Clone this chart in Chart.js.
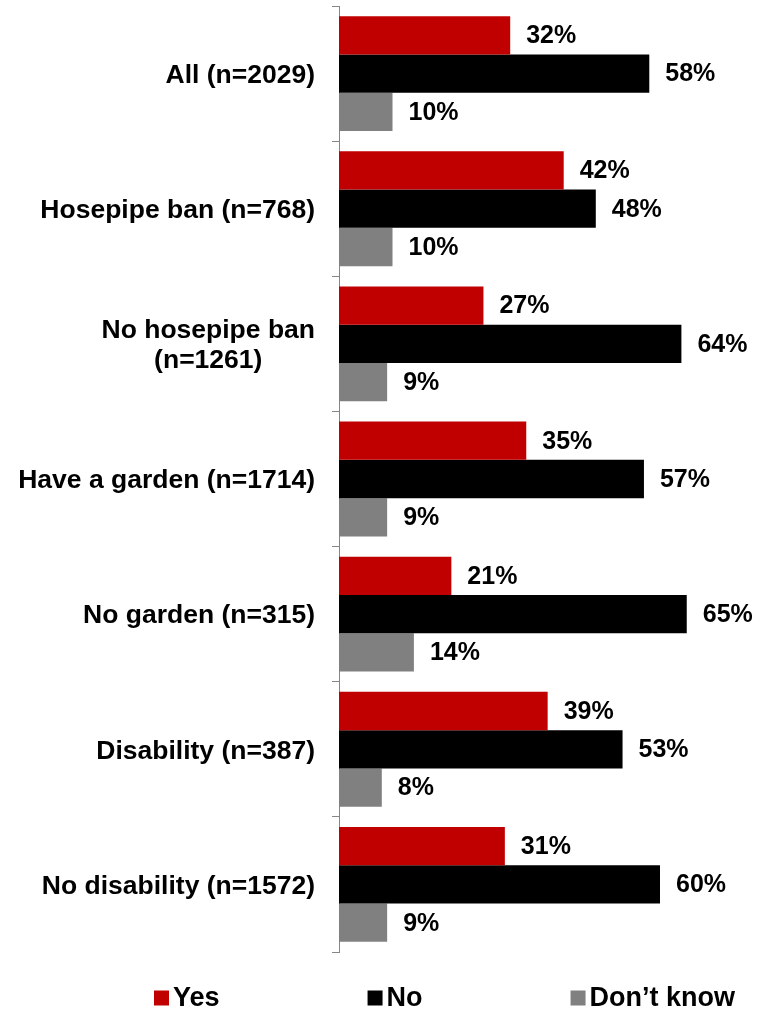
<!DOCTYPE html>
<html>
<head>
<meta charset="utf-8">
<script src="https://cdn.jsdelivr.net/npm/chart.js@4/dist/chart.umd.min.js"></script>
<style>
    html, body { margin: 0; padding: 0; background: #fff; }
    #wrap { width: 770px; height: 1010px; position: relative; }
</style>
</head>
<body>
<div id="wrap"><canvas id="surveyChart"></canvas></div>
<script>
// Survey answers by group (percent)
const groups = [
    ['All (n=2029)'],
    ['Hosepipe ban (n=768)'],
    ['No hosepipe ban', '(n=1261)'],
    ['Have a garden (n=1714)'],
    ['No garden (n=315)'],
    ['Disability (n=387)'],
    ['No disability (n=1572)']
];
const yesValues = [32, 42, 27, 35, 21, 39, 31];
const noValues = [58, 48, 64, 57, 65, 53, 60];
const dontKnowValues = [10, 10, 9, 9, 14, 8, 9];

const FONT = "'Liberation Sans', Arial, sans-serif";
const AXIS_COLOR = '#868686';

// Category names drawn by hand so the two-line label stays centred as a block
const groupLabels = {
    id: 'groupLabels',
    afterDraw(chart) {
        const ctx = chart.ctx;
        const yScale = chart.scales.y;
        const right = chart.chartArea.left - 24;
        ctx.save();
        ctx.font = 'bold 26.5px ' + FONT;
        ctx.fillStyle = '#000';
        ctx.textAlign = 'center';
        ctx.textBaseline = 'middle';
        const lineH = 30;
        groups.forEach((lines, i) => {
            const blockW = Math.max(...lines.map(l => ctx.measureText(l).width));
            const cx = right - blockW / 2;
            const cy = yScale.getPixelForValue(i) + 2;
            const top = cy - (lines.length - 1) * lineH / 2;
            lines.forEach((l, j) => ctx.fillText(l, cx, top + j * lineH));
        });
        ctx.restore();
    }
};

// Percentage next to the end of every bar
const valueLabels = {
    id: 'valueLabels',
    afterDatasetsDraw(chart) {
        const ctx = chart.ctx;
        ctx.save();
        ctx.font = 'bold 25px ' + FONT;
        ctx.fillStyle = '#000';
        ctx.textAlign = 'left';
        ctx.textBaseline = 'middle';
        chart.data.datasets.forEach((ds, di) => {
            chart.getDatasetMeta(di).data.forEach((bar, i) => {
                ctx.fillText(ds.data[i] + '%', bar.x + 16, bar.y + 1);
            });
        });
        ctx.restore();
    }
};

// Legend row under the plot
const bottomLegend = {
    id: 'bottomLegend',
    afterDraw(chart) {
        const ctx = chart.ctx;
        const y = 998;
        const box = 15;
        const gap = 148;
        let x = 154;
        ctx.save();
        ctx.font = 'bold 27px ' + FONT;
        ctx.textBaseline = 'middle';
        ctx.textAlign = 'left';
        chart.data.datasets.forEach(ds => {
            ctx.fillStyle = ds.backgroundColor;
            ctx.fillRect(x, y - box / 2, box, box);
            ctx.fillStyle = '#000';
            ctx.fillText(ds.label, x + box + 4, y + 1);
            x += box + 4 + ctx.measureText(ds.label).width + gap;
        });
        ctx.restore();
    }
};

new Chart(document.getElementById('surveyChart'), {
    type: 'bar',
    data: {
        labels: groups.map(g => g.join(' ')),
        datasets: [
            { label: 'Yes', data: yesValues, backgroundColor: '#C00000' },
            { label: 'No', data: noValues, backgroundColor: '#000000' },
            { label: 'Don\u2019t know', data: dontKnowValues, backgroundColor: '#808080' }
        ]
    },
    options: {
        indexAxis: 'y',
        responsive: true,
        maintainAspectRatio: false,
        animation: false,
        layout: { padding: { top: 6, right: 3, bottom: 58, left: 0 } },
        datasets: {
            bar: { categoryPercentage: 0.85, barPercentage: 1.0, borderWidth: 0 }
        },
        scales: {
            x: { display: false, min: 0, max: 80 },
            y: {
                offset: true,
                ticks: { display: false },
                grid: {
                    offset: true,
                    drawOnChartArea: false,
                    drawTicks: true,
                    tickLength: 7,
                    color: AXIS_COLOR
                },
                border: { display: true, color: AXIS_COLOR, width: 1 },
                afterFit(scale) { scale.width = 339; }
            }
        },
        plugins: {
            legend: { display: false },
            tooltip: { enabled: false }
        }
    },
    plugins: [groupLabels, valueLabels, bottomLegend]
});
</script>
</body>
</html>
